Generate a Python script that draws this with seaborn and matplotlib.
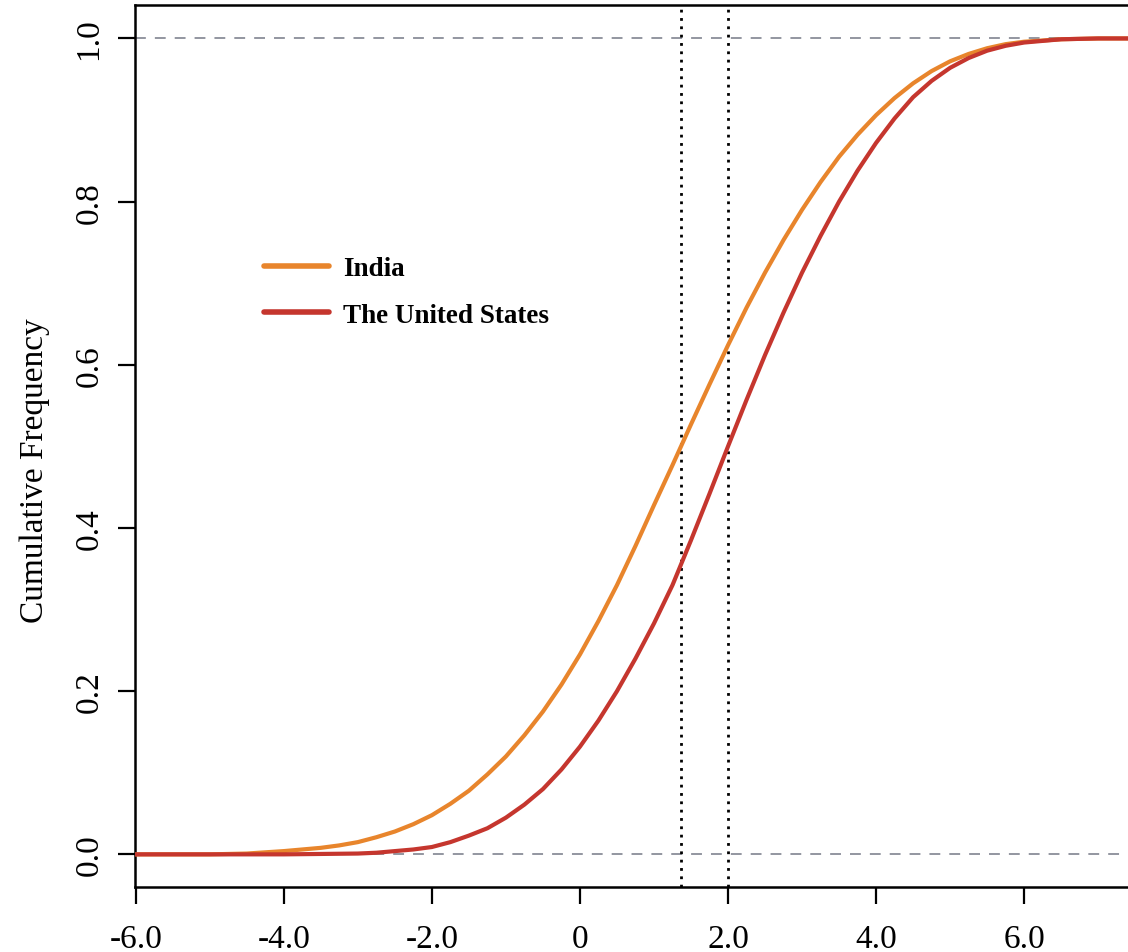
import matplotlib
matplotlib.use("Agg")
import matplotlib.pyplot as plt
import pandas as pd
import seaborn as sns

sns.set_theme(style="white")
plt.rcParams["font.family"] = ["Liberation Serif", "DejaVu Serif"]
plt.rcParams["text.color"] = "black"
plt.rcParams["axes.labelcolor"] = "black"
plt.rcParams["xtick.color"] = "black"
plt.rcParams["ytick.color"] = "black"

# values
x_india = [-6.0, -5.0, -4.5, -4.0, -3.75, -3.5, -3.25, -3.0, -2.75, -2.5, -2.25, -2.0,
           -1.75, -1.5, -1.25, -1.0, -0.75, -0.5, -0.25, 0.0, 0.25, 0.5, 0.75, 1.0,
           1.25, 1.5, 1.75, 2.0, 2.25, 2.5, 2.75, 3.0, 3.25, 3.5, 3.75, 4.0, 4.25,
           4.5, 4.75, 5.0, 5.25, 5.5, 5.75, 6.0, 6.5, 7.0, 7.7]
cdf_india = [0.000, 0.000, 0.001, 0.004, 0.006, 0.008, 0.011, 0.015, 0.021, 0.028, 0.037, 0.048,
             0.062, 0.078, 0.098, 0.120, 0.146, 0.175, 0.208, 0.245, 0.286, 0.330, 0.378, 0.428,
             0.477, 0.527, 0.576, 0.624, 0.670, 0.713, 0.753, 0.790, 0.824, 0.855, 0.882, 0.906, 0.927,
             0.945, 0.960, 0.972, 0.981, 0.988, 0.993, 0.996, 0.999, 1.000, 1.000]

x_us = [-6.0, -5.0, -4.0, -3.5, -3.0, -2.75, -2.5, -2.25, -2.0, -1.75, -1.5, -1.25,
        -1.0, -0.75, -0.5, -0.25, 0.0, 0.25, 0.5, 0.75, 1.0, 1.25, 1.5, 1.75, 2.0,
        2.25, 2.5, 2.75, 3.0, 3.25, 3.5, 3.75, 4.0, 4.25, 4.5, 4.75, 5.0, 5.25, 5.5,
        5.75, 6.0, 6.5, 7.0, 7.7]
cdf_us = [0.000, 0.000, 0.000, 0.0005, 0.001, 0.002, 0.004, 0.006, 0.009, 0.015, 0.023, 0.032,
          0.045, 0.061, 0.080, 0.104, 0.132, 0.164, 0.200, 0.240, 0.283, 0.330, 0.385, 0.442, 0.500,
          0.557, 0.612, 0.664, 0.713, 0.758, 0.800, 0.838, 0.872, 0.902, 0.928, 0.948, 0.964, 0.976, 0.985,
          0.991, 0.995, 0.999, 1.000, 1.000]

medians = [1.37, 2.0]
x_ticks = [-6, -4, -2, 0, 2, 4, 6]
x_tick_labels = ["-6.0", "-4.0", "-2.0", "0", "2.0", "4.0", "6.0"]
y_ticks = [0.0, 0.2, 0.4, 0.6, 0.8, 1.0]
y_tick_labels = ["0.0", "0.2", "0.4", "0.6", "0.8", "1.0"]

df = pd.concat([
    pd.DataFrame({"x": x_india, "cdf": cdf_india, "country": "India"}),
    pd.DataFrame({"x": x_us, "cdf": cdf_us, "country": "The United States"}),
])
palette = {"India": "#E8852C", "The United States": "#C5362E"}

fig = plt.figure(figsize=(11.28, 9.53), dpi=100)
ax = fig.add_axes([135 / 1128, 65 / 953, 1015 / 1128, 882 / 953])

for y in [0.0, 1.0]:
    ax.axhline(y, color="#8a8d99", lw=1.3, ls=(0, (6, 5)), zorder=1)
for m in medians:
    ax.axvline(m, color="black", lw=2.0, ls=(0, (1, 2)), zorder=1)

sns.lineplot(data=df, x="x", y="cdf", hue="country", palette=palette,
             lw=3, ax=ax, zorder=3, legend=True)

ax.set_xlim(-6.01, 7.70)
ax.set_ylim(-0.04, 1.041)
ax.set_xticks(x_ticks)
ax.set_xticklabels(x_tick_labels, fontsize=24)
ax.set_yticks(y_ticks)
ax.set_yticklabels(y_tick_labels, fontsize=24, rotation=90, va="center")
ax.tick_params(axis="both", direction="out", length=12, width=1.6, color="black")
ax.tick_params(axis="x", pad=14)
ax.tick_params(axis="y", pad=10)
ax.tick_params(axis="both", which="both", bottom=True, left=True)
for s in ax.spines.values():
    s.set_color("black")
    s.set_linewidth(1.8)

ax.set_xlabel("")
ax.set_ylabel("Cumulative Frequency", fontsize=24)
ax.yaxis.set_label_coords(-0.084, 0.473)

leg = ax.legend(loc="center left", bbox_to_anchor=(250 / 1128, 1 - 293 / 953),
                bbox_transform=fig.transFigure, frameon=False, borderpad=0,
                handlelength=2.4, handletextpad=0.55, labelspacing=0.8,
                prop={"family": "Liberation Serif", "weight": "bold", "size": 19.5})
for line in leg.get_lines():
    line.set_linewidth(4)

fig.savefig("out.png", dpi=100)
